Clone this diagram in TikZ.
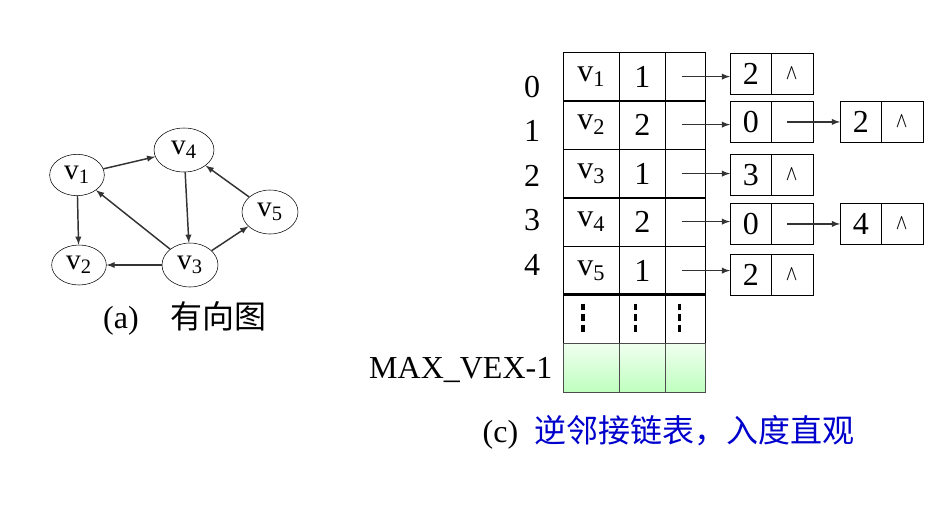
\documentclass[tikz,border=0pt]{standalone}
\usepackage{fontspec}
\setmainfont{Liberation Serif}
\newfontfamily\cjk{Noto Sans CJK SC}
\usetikzlibrary{shapes.geometric}
\tikzset{>=latex}
\colorlet{capblue}{blue!80!black}
\tikzset{
  vert/.style={draw,ellipse,inner sep=0pt,minimum width=41pt,minimum height=31pt,font=\fontsize{22}{22}\selectfont},
  edge/.style={->,line width=1.1pt,black!80},
  cell/.style={draw,rectangle,inner sep=0pt,anchor=north west,font=\fontsize{24}{24}\selectfont},
  link/.style={->,line width=1.1pt,black!80},
  lbl/.style={font=\fontsize{24}{24}\selectfont}
}
\def\vx#1{v\textsubscript{#1}}
\begin{document}
\begin{tikzpicture}[x=0.75pt,y=-0.75pt]
  \useasboundingbox (0,0) rectangle (950,511);

  % GRAPH
  \node[vert] (v1) at (77,175) {\vx{1}};
  \node[vert,minimum width=45pt,minimum height=33pt] (v4) at (184,150) {\vx{4}};
  \node[vert,minimum width=42pt,minimum height=33pt] (v5) at (270,212) {\vx{5}};
  \node[vert,minimum height=30pt] (v2) at (79,265) {\vx{2}};
  \node[vert,minimum width=42pt,minimum height=33pt] (v3) at (190,265) {\vx{3}};
  \draw[edge] (v1) -- (v4);
  \draw[edge] (v1) -- (v2);
  \draw[edge] (v4) -- (v3);
  \draw[edge] (v3) -- (v1);
  \draw[edge] (v3) -- (v2);
  \draw[edge] (v3) -- (v5);
  \draw[edge] (v5) -- (v4);
  \node[lbl] (capa) at (185,318) {(a)\quad{\cjk 有向图}};

  % TABLE
  \foreach \i/\y/\v/\d/\ry in {0/52/1/1/87,1/100/2/2/131,2/149/3/1/176,3/197/4/2/220,4/246/5/1/265}{
    \node[cell,minimum width=42pt,minimum height=36.5pt] (n\i) at (563,\y) {\vx{\v}\hspace{8pt}};
    \node[cell,minimum width=34.5pt,minimum height=36.5pt] (d\i) at (619,\y) {\d};
    \node[cell,minimum width=30pt,minimum height=36.5pt] (p\i) at (665,\y) {};
    \node[lbl] (r\i) at (532,\ry) {\i};
  }
  \foreach \c/\x/\w in {a/563/42,b/619/34.5,c/665/30}{
    \node[cell,minimum width=\w pt,minimum height=36.5pt] (e\c) at (\x,294) {};
    \draw[line width=2.5pt,dash pattern=on 5pt off 3pt] ([xshift=-\w*0.15pt]e\c.center) ++(0,-15) -- ++(0,30);
    \node[cell,draw=black!70,top color=green!6,bottom color=green!25,minimum width=\w pt,minimum height=36.5pt] (m\c) at (\x,343) {};
  }
  \draw[line width=1.2pt] (ea.north west) -- (ec.north east);
  \node[lbl,anchor=east] (mx) at (557,370) {MAX\_VEX-1};

  % LISTS
  \foreach \i/\y/\a in {0/53/2,1/101/0,2/154/3,3/203/0,4/254/2}{
    \node[cell,minimum width=31pt,minimum height=31pt] (a\i) at (730,\y) {\a\hspace{6pt}};
    \node[cell,minimum width=31.5pt,minimum height=31pt] (b\i) at (771,\y) {};
    \coordinate (s\i) at ([xshift=-18pt]p\i.east);
    \draw[link] (s\i) -- (s\i -| a\i.west);
  }
  \foreach \i in {0,2,4}{\node[lbl] at (b\i) {$\bigwedge$};}
  \foreach \i/\y/\a in {1/101/2,3/203/4}{
    \node[cell,minimum width=31pt,minimum height=31pt] (f\i) at (840,\y) {\a};
    \node[cell,minimum width=31.5pt,minimum height=31pt] (g\i) at (881,\y) {$\bigwedge$};
    \coordinate (t\i) at ([xshift=-4pt]b\i.center);
    \draw[link] (t\i) -- (t\i -| f\i.west);
  }

  \node[lbl,anchor=west] (capc) at (478,432) {(c)\ \ {\cjk\color{capblue}逆邻接链表，入度直观}};
\end{tikzpicture}
\end{document}
